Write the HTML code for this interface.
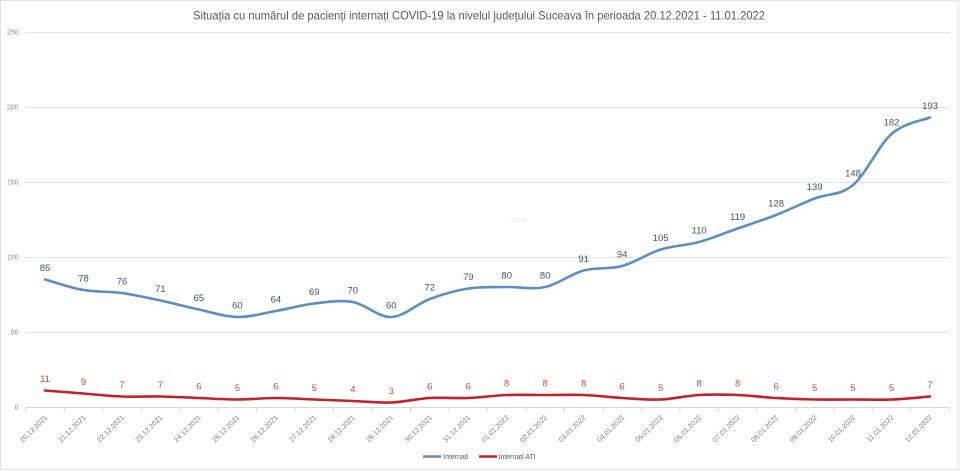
<!DOCTYPE html>
<html>
<head>
<meta charset="utf-8">
<style>
html,body{margin:0;padding:0;background:#fff;}
svg{display:block;font-family:"Liberation Sans",Arial,sans-serif;}
</style>
</head>
<body>
<svg id="c" width="960" height="471" viewBox="0 0 960 471" xmlns="http://www.w3.org/2000/svg">
<rect x="0.5" y="0.5" width="958" height="469" fill="#fff" stroke="#e2e2e2" stroke-width="1"/>
<text x="479" y="19.5" text-anchor="middle" font-size="12" fill="#595959" textLength="572" lengthAdjust="spacingAndGlyphs">Situația cu numărul de pacienți internați COVID-19 la nivelul județului Suceava în perioada 20.12.2021 - 11.01.2022</text>
<g stroke="#e4e4e4" stroke-width="1">
<line x1="25" y1="32.5" x2="950" y2="32.5"/>
<line x1="25" y1="107.5" x2="950" y2="107.5"/>
<line x1="25" y1="182.5" x2="950" y2="182.5"/>
<line x1="25" y1="257.5" x2="950" y2="257.5"/>
<line x1="25" y1="332.5" x2="950" y2="332.5"/>
<line x1="25" y1="407.5" x2="950" y2="407.5" stroke="#d9d9d9"/>
</g>
<g id="ticks" stroke="#d9d9d9" stroke-width="1"></g>
<g font-size="7" fill="#8c8c8c" text-anchor="end">
<text x="18.5" y="34.5">250</text>
<text x="18.5" y="109.5">200</text>
<text x="18.5" y="184.5">150</text>
<text x="18.5" y="259.5">100</text>
<text x="18.5" y="334.5">50</text>
<text x="18.5" y="409.5">0</text>
</g>
<text x="505" y="222" font-size="5" fill="#ececec">© SDIDIS</text>
<path id="blue" fill="none" stroke="#5b8ec4" stroke-width="2.6" stroke-linecap="round" stroke-linejoin="round"/>
<path id="red" fill="none" stroke="#c3222b" stroke-width="2.6" stroke-linecap="round" stroke-linejoin="round"/>
<g id="blabels" font-size="9.5" fill="#44546a" text-anchor="middle"></g>
<g id="rlabels" font-size="9.5" fill="#c0504d" text-anchor="middle"></g>
<g id="xlabels" font-size="7" fill="#7f7f7f" text-anchor="end"></g>
<line x1="423" y1="456.5" x2="441" y2="456.5" stroke="#5b8ec4" stroke-width="2.5"/>
<text x="443" y="459" font-size="7" fill="#595959">Internați</text>
<line x1="479" y1="456.5" x2="497" y2="456.5" stroke="#c3222b" stroke-width="2.5"/>
<text x="498.5" y="459" font-size="7" fill="#595959">Internați ATI</text>
</svg>
<script>
(function(){
var NS="http://www.w3.org/2000/svg";
var blue=[85,78,76,71,65,60,64,69,70,60,72,79,80,80,91,94,105,110,119,128,139,148,182,193];
var red=[11,9,7,7,6,5,6,5,4,3,6,6,8,8,8,6,5,8,8,6,5,5,5,7];
var dates=["20.12.2021","21.12.2021","22.12.2021","23.12.2021","24.12.2021","25.12.2021","26.12.2021","27.12.2021","28.12.2021","29.12.2021","30.12.2021","31.12.2021","01.01.2022","02.01.2022","03.01.2022","04.01.2022","05.01.2022","06.01.2022","07.01.2022","08.01.2022","09.01.2022","10.01.2022","11.01.2022","12.01.2022"];
var step=38.478;
function X(i){return 45+step*i;}
function Y(v){return 407-1.5*v;}
function path(arr){
  var p=arr.map(function(v,i){return [X(i),Y(v)];});
  var d="M"+p[0][0].toFixed(2)+","+p[0][1].toFixed(2);
  for(var i=0;i<p.length-1;i++){
    var p0=p[i-1]||p[i],p1=p[i],p2=p[i+1],p3=p[i+2]||p[i+1];
    var c1x=p1[0]+(p2[0]-p0[0])/6,c1y=p1[1]+(p2[1]-p0[1])/6;
    var c2x=p2[0]-(p3[0]-p1[0])/6,c2y=p2[1]-(p3[1]-p1[1])/6;
    d+=" C"+c1x.toFixed(2)+","+c1y.toFixed(2)+" "+c2x.toFixed(2)+","+c2y.toFixed(2)+" "+p2[0].toFixed(2)+","+p2[1].toFixed(2);
  }
  return d;
}
document.getElementById("blue").setAttribute("d",path(blue));
document.getElementById("red").setAttribute("d",path(red));
function t(g,x,y,s,tr){var e=document.createElementNS(NS,"text");e.setAttribute("x",x);e.setAttribute("y",y);if(tr)e.setAttribute("transform",tr);e.textContent=s;g.appendChild(e);}
var bl=document.getElementById("blabels"),rl=document.getElementById("rlabels"),xl=document.getElementById("xlabels"),tk=document.getElementById("ticks");
for(var i=0;i<24;i++){
  t(bl,X(i).toFixed(1),(Y(blue[i])-8.5).toFixed(1),String(blue[i]));
  t(rl,X(i).toFixed(1),(Y(red[i])-8.7).toFixed(1),String(red[i]));
  var ax=X(i)+2.5, ay=418;
  t(xl,ax.toFixed(1),ay,dates[i],"rotate(-45 "+ax.toFixed(1)+" "+ay+")");
}
for(var k=0;k<=24;k++){
  var l=document.createElementNS(NS,"line");var x=(25.8+step*k).toFixed(1);
  l.setAttribute("x1",x);l.setAttribute("x2",x);l.setAttribute("y1","407.5");l.setAttribute("y2","411.5");tk.appendChild(l);
}
})();
</script>
</body>
</html>
